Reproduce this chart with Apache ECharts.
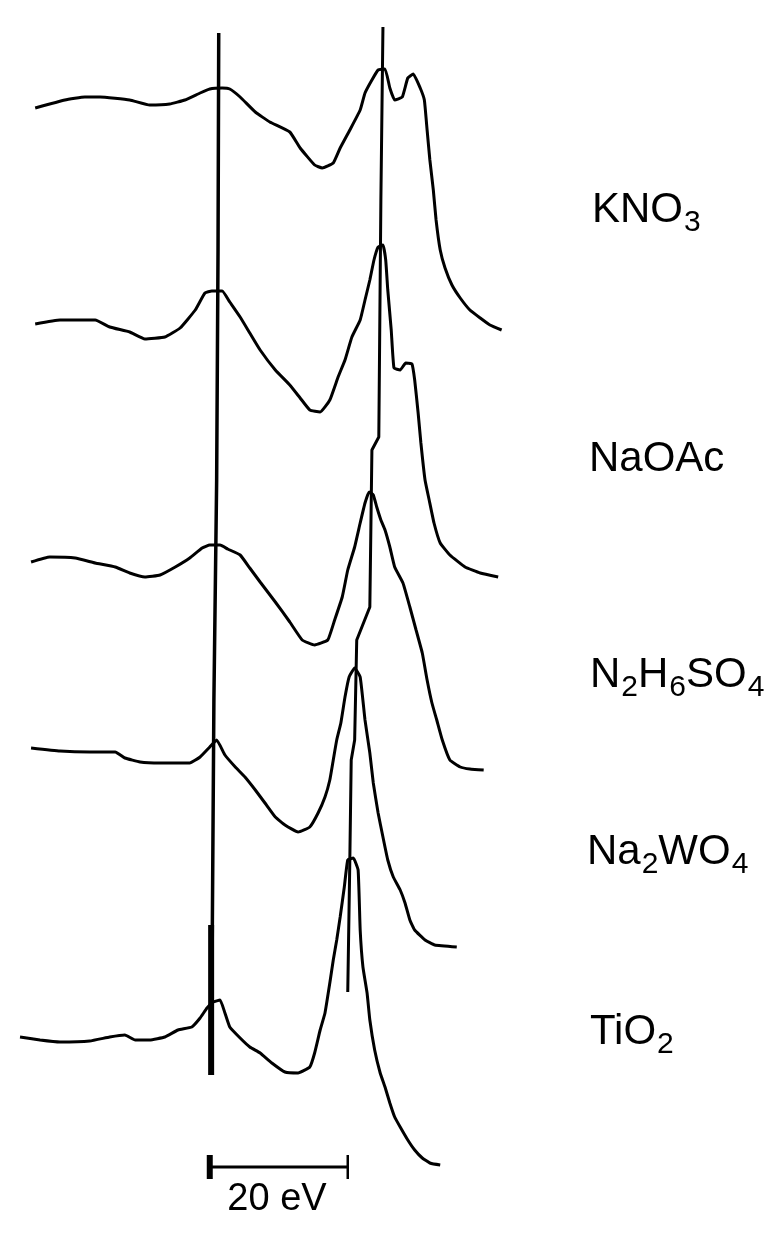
<!DOCTYPE html>
<html>
<head>
<meta charset="utf-8">
<title>XANES spectra</title>
<script src="https://cdn.jsdelivr.net/npm/echarts@6/dist/echarts.min.js"></script>
<style>
  html, body { margin: 0; padding: 0; background: #fff; }
  #chart { width: 769px; height: 1235px; }
</style>
</head>
<body>
<div id="chart"></div>
<script>
// energy in eV relative to the first edge line, intensity in arbitrary units
const sampleNames = ['KNO3', 'NaOAc', 'N2H6SO4', 'Na2WO4', 'TiO2'];
const baselineOffsets = [112.7, 91.1, 67.3, 48.7, 19.8];

const knoEnergy = [-26.2, -21.9, -19.0, -16.8, -12.5, -9.6, -6.7, -4.5, -2.3, -0.9, 0.9, 2.0, 3.5, 5.7, 7.8, 10.7, 12.2, 14.3, 15.4, 17.0, 18.0, 19.4, 20.9, 21.6, 22.6, 23.5, 24.5, 25.2, 25.9, 27.0, 27.8, 28.6, 29.6, 30.2, 30.6, 31.0, 31.5, 31.9, 32.5, 33.2, 34.2, 35.4, 36.8, 38.3, 39.7, 41.4];
const knoIntensity = [0, 0.8, 1.1, 1.1, 0.8, 0.3, 0.4, 0.8, 1.5, 1.9, 2.0, 1.9, 1.1, -0.4, -1.4, -2.4, -4.0, -5.7, -6.0, -5.5, -4.0, -2.2, -0.2, 1.5, 2.8, 3.8, 3.9, 2.0, 0.8, 1.1, 3.0, 3.4, 2.0, 0.8, -2.2, -5.2, -8.2, -11.2, -14.2, -16.0, -17.7, -19.0, -20.2, -21.0, -21.7, -22.2];

const naoacEnergy = [-26.2, -22.6, -17.5, -15.4, -12.5, -10.3, -7.4, -5.2, -3.0, -1.6, -0.6, 0.9, 2.0, 3.5, 4.9, 6.4, 8.6, 10.7, 12.2, 13.6, 15.1, 16.5, 17.7, 18.7, 19.7, 20.9, 21.6, 22.3, 22.9, 23.5, 24.2, 24.6, 24.9, 25.4, 25.8, 26.7, 27.5, 28.4, 28.8, 29.3, 29.7, 30.3, 30.9, 31.6, 32.5, 33.9, 36.1, 38.3, 40.9];
const naoacIntensity = [0, 0.4, 0.4, -0.3, -0.8, -1.5, -1.3, -0.4, 1.4, 3.1, 3.3, 3.3, 2.2, 0.7, -0.9, -2.6, -4.6, -6.1, -7.4, -8.6, -8.8, -7.6, -5.3, -3.6, -1.3, 0.4, 2.4, 4.4, 6.4, 7.7, 7.9, 6.4, 3.4, -0.6, -4.4, -4.6, -3.9, -4.0, -5.6, -8.9, -11.9, -15.6, -17.6, -19.9, -21.9, -23.1, -24.3, -24.9, -25.3];

const hydrazEnergy = [-26.8, -24.1, -20.4, -17.5, -14.6, -12.5, -10.3, -8.1, -5.9, -3.8, -2.0, -0.9, 0.6, 1.7, 3.5, 4.9, 6.4, 8.6, 10.7, 12.5, 14.3, 16.2, 17.2, 18.3, 19.1, 20.1, 20.9, 21.6, 22.2, 22.8, 23.3, 23.9, 24.5, 25.2, 25.9, 27.1, 28.1, 29.0, 29.9, 30.6, 31.3, 32.0, 32.8, 33.9, 35.4, 36.8, 38.8];
const hydrazIntensity = [0, 0.5, 0.4, -0.1, -0.5, -1.1, -1.5, -1.3, -0.5, 0.4, 1.4, 1.7, 1.7, 1.3, 0.7, -0.6, -2.0, -4.0, -6.0, -7.8, -8.3, -7.8, -5.8, -3.5, -0.8, 1.5, 3.9, 5.9, 7.0, 6.7, 5.5, 4.2, 3.2, 1.5, -0.5, -2.1, -4.5, -6.8, -9.1, -11.8, -14.1, -15.8, -17.8, -19.8, -20.5, -20.7, -20.8];

const tungstEnergy = [-26.8, -22.6, -18.3, -14.6, -13.2, -11.0, -8.1, -3.8, -2.3, -0.9, 0.1, 1.3, 2.8, 4.2, 5.7, 7.1, 8.6, 10.0, 11.9, 13.6, 14.8, 15.8, 16.5, 17.0, 17.5, 18.1, 18.7, 19.3, 20.1, 20.9, 21.6, 22.3, 22.8, 23.5, 24.2, 24.9, 25.7, 26.7, 27.4, 28.1, 28.8, 30.3, 31.7, 34.9];
const tungstIntensity = [0, -0.3, -0.4, -0.4, -1.0, -1.4, -1.5, -1.5, -0.9, 0.1, 0.8, -0.7, -1.9, -2.9, -4.2, -5.5, -6.9, -7.7, -8.4, -7.9, -6.5, -4.9, -3.2, -1.2, 0.8, 2.5, 5.1, 7.1, 8.0, 7.1, 2.8, -0.5, -3.5, -6.5, -8.9, -11.2, -12.9, -14.2, -15.5, -17.2, -18.2, -19.2, -19.7, -19.9];

const titanEnergy = [-28.4, -25.5, -22.6, -18.3, -15.4, -13.2, -11.7, -9.6, -7.4, -5.5, -3.5, -2.3, -1.3, -0.4, 0.6, 1.3, 2.0, 3.5, 4.9, 6.4, 8.1, 10.0, 11.9, 13.6, 14.3, 15.1, 15.8, 16.5, 17.0, 17.5, 18.0, 18.6, 19.1, 19.9, 20.6, 20.9, 21.3, 21.9, 22.3, 23.0, 23.8, 24.5, 25.2, 25.9, 26.7, 27.8, 28.8, 29.9, 31.0, 32.5];
const titanIntensity = [0, -0.3, -0.5, -0.4, 0, 0.2, -0.3, -0.3, 0, 0.7, 1.0, 1.9, 2.9, 3.5, 3.7, 2.4, 1.0, -0.1, -1.0, -1.6, -2.6, -3.5, -3.6, -3.0, -1.6, 0.7, 2.4, 5.4, 7.7, 9.7, 12.0, 15.0, 17.7, 17.9, 16.7, 10.7, 7.0, 4.4, 1.7, -1.3, -3.6, -5.0, -6.6, -8.0, -9.0, -10.3, -11.3, -12.1, -12.6, -12.8];

// guide lines drawn through the figure (energy, absolute level)
const edgeLineEnergy = [0.4, 0.3, 0.1, -0.3, -0.6, -0.7];
const edgeLineLevel = [120.2, 98.5, 75.5, 53.5, 23.5, 16.0];
const edgeFootLevel = [31.0, 16.0];
const peakLineEnergy = [24.2, 23.9, 23.6, 22.6, 22.3, 20.4, 20.1, 19.6, 19.4, 19.1];
const peakLineLevel = [120.8, 103.5, 79.8, 78.5, 62.8, 59.5, 49.5, 47.5, 37.5, 24.3];

// 20 eV scale bar
const scaleBarEnergy = [-0.9, 19.1];
const scaleBarLevel = 6.8;
const scaleTickLevels = [5.6, 8.0];

const spectra = [
  [knoEnergy, knoIntensity],
  [naoacEnergy, naoacIntensity],
  [hydrazEnergy, hydrazIntensity],
  [tungstEnergy, tungstIntensity],
  [titanEnergy, titanIntensity]
];

function zipPoints(xs, ys) {
  return xs.map((x, i) => [x, ys[i]]);
}

function plainLine(name, data, width) {
  return {
    name: name,
    type: 'line',
    data: data,
    showSymbol: false,
    silent: true,
    lineStyle: { color: '#000', width: width },
    z: 3
  };
}

const series = spectra.map(([xs, ys], i) => ({
  name: sampleNames[i],
  type: 'line',
  data: xs.map((x, j) => [x, baselineOffsets[i] + ys[j]]),
  showSymbol: false,
  smooth: 0.12,
  lineStyle: { color: '#000', width: 3 },
  z: 4
}));

series.push(plainLine('edge', zipPoints(edgeLineEnergy, edgeLineLevel), 3.5));
series.push(plainLine('edgeFoot', edgeFootLevel.map((v) => [edgeLineEnergy[edgeLineEnergy.length - 1], v]), 6));
series.push(plainLine('peak', zipPoints(peakLineEnergy, peakLineLevel), 3));
series.push(plainLine('scaleBar', scaleBarEnergy.map((e) => [e, scaleBarLevel]), 3));
series.push(plainLine('scaleTickL', scaleTickLevels.map((v) => [scaleBarEnergy[0], v]), 6));
series.push(plainLine('scaleTickR', scaleTickLevels.map((v) => [scaleBarEnergy[1], v]), 2.5));

const chart = echarts.init(document.getElementById('chart'), null, { renderer: 'canvas' });

const labelFont = '"Liberation Sans", Arial, sans-serif';
const richStyles = {
  m: { fontSize: 42, lineHeight: 42, verticalAlign: 'top', fontFamily: labelFont, color: '#000' },
  s: { fontSize: 30, lineHeight: 30, verticalAlign: 'top', padding: [19, 0, 0, 1], fontFamily: labelFont, color: '#000' }
};

function formulaText(name) {
  // digits become subscripts
  return name.match(/[A-Za-z]+|\d+/g)
    .map((part) => (/\d/.test(part) ? '{s|' + part + '}' : '{m|' + part + '}'))
    .join('');
}

const labelSpots = [
  { left: 592, top: 189 },
  { left: 589, top: 438 },
  { left: 590, top: 654 },
  { left: 587, top: 831 },
  { left: 590, top: 1011 }
];

const graphics = sampleNames.map((name, i) => ({
  type: 'text',
  left: labelSpots[i].left,
  top: labelSpots[i].top,
  style: {
    text: formulaText(name),
    rich: richStyles
  }
}));

graphics.push({
  type: 'text',
  x: 277,
  y: 1200,
  style: {
    text: '20 eV',
    font: '38px "Liberation Sans", Arial, sans-serif',
    fill: '#000',
    textAlign: 'center',
    textVerticalAlign: 'middle'
  }
});

chart.setOption({
  animation: false,
  backgroundColor: '#fff',
  grid: { left: 0, right: 0, top: 0, bottom: 0 },
  xAxis: { type: 'value', min: -31.3, max: 80.15, show: false },
  yAxis: { type: 'value', min: 0, max: 123.5, show: false },
  series: series,
  graphic: graphics
});
</script>
</body>
</html>
